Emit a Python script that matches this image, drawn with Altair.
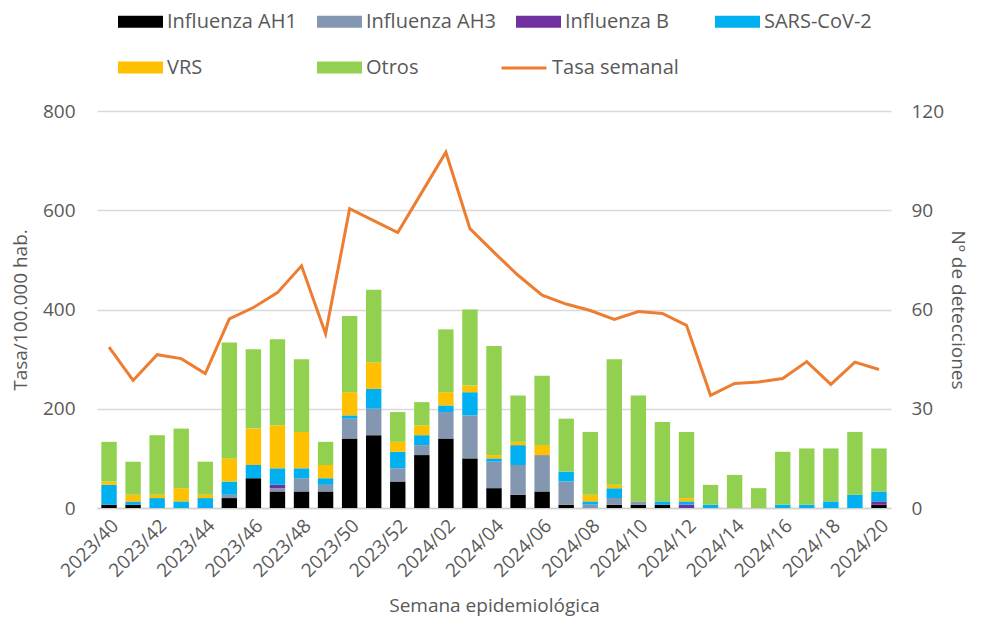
import altair as alt
import pandas as pd

weeks = ["2023/40", "2023/41", "2023/42", "2023/43", "2023/44", "2023/45", "2023/46",
         "2023/47", "2023/48", "2023/49", "2023/50", "2023/51", "2023/52",
         "2024/01", "2024/02", "2024/03", "2024/04", "2024/05", "2024/06", "2024/07",
         "2024/08", "2024/09", "2024/10", "2024/11", "2024/12", "2024/13", "2024/14",
         "2024/15", "2024/16", "2024/17", "2024/18", "2024/19", "2024/20"]
tick_weeks = ["2023/40", "2023/42", "2023/44", "2023/46", "2023/48", "2023/50", "2023/52",
              "2024/02", "2024/04", "2024/06", "2024/08", "2024/10", "2024/12", "2024/14",
              "2024/16", "2024/18", "2024/20"]

ah1 = [1, 1, 0, 0, 0, 3, 9, 5, 5, 5, 21, 22, 8, 16, 21, 15, 6, 4, 5, 1, 0, 1, 1, 1, 0, 0, 0, 0, 0, 0, 0, 0, 1]
ah3 = [0, 0, 0, 0, 0, 1, 0, 1, 4, 2, 6, 8, 4, 3, 8, 13, 8, 9, 11, 7, 1, 2, 1, 0, 0, 0, 0, 0, 0, 0, 0, 0, 0]
flu_b = [0, 0, 0, 0, 0, 0, 0, 1, 0, 0, 0, 0, 0, 0, 0, 0, 0, 0, 0, 0, 0, 0, 0, 0, 1, 0, 0, 0, 0, 0, 0, 0, 1]
sars = [6, 1, 3, 2, 3, 4, 4, 5, 3, 2, 1, 6, 5, 3, 2, 7, 1, 6, 0, 3, 1, 3, 0, 1, 1, 1, 0, 0, 1, 1, 2, 4, 3]
vrs = [1, 2, 1, 4, 1, 7, 11, 13, 11, 4, 7, 8, 3, 3, 4, 2, 1, 1, 3, 0, 2, 1, 0, 0, 1, 0, 0, 0, 0, 0, 0, 0, 0]
otros = [12, 10, 18, 18, 10, 35, 24, 26, 22, 7, 23, 22, 9, 7, 19, 23, 33, 14, 21, 16, 19, 38, 32, 24, 20, 6, 10, 6, 16, 17, 16, 19, 13]
tasa = [324, 257, 309, 301, 271, 381, 404, 434, 488, 351, 603, 579, 555, 636, 717, 563, 515, 469, 429,
        411, 398, 380, 396, 392, 368, 227, 251, 254, 261, 295, 249, 294, 279]

tipos = ["Influenza AH1", "Influenza AH3", "Influenza B", "SARS-CoV-2", "VRS", "Otros"]
colores = ["#000000", "#8497B0", "#7030A0", "#00B0F0", "#FFC000", "#92D050"]
series = [ah1, ah3, flu_b, sars, vrs, otros]

rows = []
for k, (t, s) in enumerate(zip(tipos, series)):
    for w, v in zip(weeks, s):
        rows.append({"semana": w, "tipo": t, "orden": k, "n": v})
df_bars = pd.DataFrame(rows)
df_line = pd.DataFrame({"semana": weeks, "tasa": tasa, "serie": "Tasa semanal"})

FONT = "Open Sans"
TXT = "#595959"

x_enc = alt.X(
    "semana:N",
    sort=weeks,
    scale=alt.Scale(domain=weeks, paddingInner=0.36, paddingOuter=0.18),
    axis=alt.Axis(
        values=tick_weeks, labelAngle=-45, ticks=False, domainColor="#d0d0d0",
        domainWidth=1.5, labelFontSize=19, labelColor=TXT, labelFont=FONT,
        labelPadding=8, title="Semana epidemiológica", titleFontSize=19,
        titleColor=TXT, titleFont=FONT, titleFontWeight="normal", titlePadding=16,
    ),
)

bars = alt.Chart(df_bars).mark_bar().encode(
    x=x_enc,
    y=alt.Y(
        "sum(n):Q",
        stack="zero",
        scale=alt.Scale(domain=[0, 120]),
        axis=alt.Axis(
            orient="right", values=[0, 30, 60, 90, 120], grid=False, ticks=False,
            domain=False, labelFontSize=19, labelColor=TXT, labelFont=FONT,
            labelPadding=20, title="Nº de detecciones", titleFontSize=19,
            titleColor=TXT, titleFont=FONT, titleFontWeight="normal", titlePadding=4,
        ),
    ),
    color=alt.Color(
        "tipo:N",
        scale=alt.Scale(domain=tipos, range=colores),
        legend=alt.Legend(
            title=None, orient="none", legendX=21, legendY=-112, columns=4,
            direction="horizontal",
            symbolType="M-1,-0.27H1V0.27H-1Z", symbolSize=2025, symbolStrokeWidth=0,
            symbolOpacity=1, labelFontSize=20, labelColor=TXT, labelFont=FONT,
            labelOffset=4, labelLimit=300, gridAlign="all", columnPadding=20, rowPadding=13,
        ),
    ),
    order=alt.Order("orden:Q", sort="ascending"),
)

line = alt.Chart(df_line).mark_line(strokeWidth=3).encode(
    x=x_enc,
    y=alt.Y(
        "tasa:Q",
        scale=alt.Scale(domain=[0, 800]),
        axis=alt.Axis(
            orient="left", values=[0, 200, 400, 600, 800], grid=True, gridColor="#d9d9d9",
            gridWidth=1.5, ticks=False, domain=False, labelFontSize=19, labelColor=TXT,
            labelFont=FONT, labelPadding=22, title="Tasa/100.000 hab.", titleFontSize=19,
            titleColor=TXT, titleFont=FONT, titleFontWeight="normal", titlePadding=12,
        ),
    ),
    stroke=alt.Stroke(
        "serie:N",
        scale=alt.Scale(domain=["Tasa semanal"], range=["#ED7D31"]),
        legend=alt.Legend(
            title=None, orient="none", legendX=403, legendY=-67,
            symbolType="stroke", symbolSize=2025, symbolStrokeWidth=3,
            labelFontSize=20, labelColor=TXT, labelFont=FONT, labelOffset=4, labelLimit=300,
        ),
    ),
)

chart = (
    alt.layer(bars, line)
    .resolve_scale(y="independent", color="independent", stroke="independent")
    .properties(
        width=794, height=397,
        background="white",
        autosize=alt.AutoSizeParams(type="none"),
        padding={"left": 89, "top": 103, "right": 85, "bottom": 110},
    )
    .configure_view(stroke=None, strokeWidth=0)
)

chart.save("out.html", embed_options={"renderer": "svg", "actions": False})
